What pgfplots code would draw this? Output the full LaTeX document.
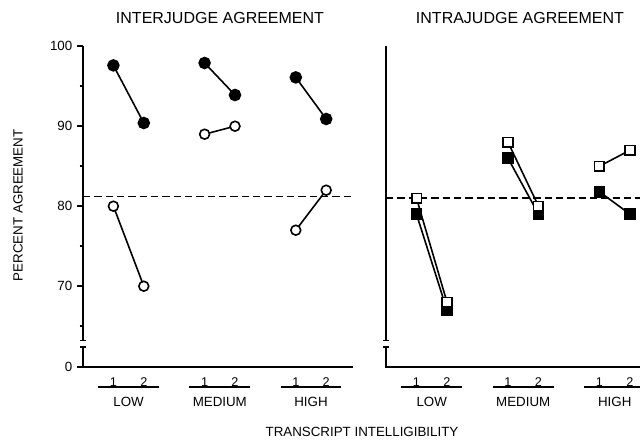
\documentclass[border=0pt]{standalone}
\usepackage{pgfplots}
\pgfplotsset{compat=1.18}
\usepackage{fontspec}
\setmainfont{Liberation Sans}
\tikzset{grp/.style={anchor=base, font=\fontsize{10}{11}\selectfont}}
\begin{document}
\begin{tikzpicture}
\useasboundingbox (0,0) rectangle (480pt,330pt);
\pgfplotsset{
  panel/.style={
    anchor=south west,
    y=6pt, xmin=0, ymin=59.9, ymax=100,
    axis line style={draw=none},
    clip=false,
    xtick={1,2,4,5,7,8}, xticklabels={1,2,1,2,1,2},
    major x tick style={draw=none},
    xticklabel style={font=\fontsize{9.5}{10}\selectfont, anchor=base, yshift=-9.8pt},
    tick align=outside,
    ytick pos=left,
    major tick length=4.5pt, minor tick length=2.5pt,
    every tick/.style={black, line width=1.1pt},
    yticklabel style={font=\fontsize{10}{11}\selectfont},
  },
  filled/.style={black, line width=1.2pt, mark=*, mark size=4.1pt, mark options={solid, fill=black}},
  open/.style={black, line width=1.2pt, mark=*, mark size=3.7pt, mark options={solid, fill=white}},
  sqfilled/.style={black, line width=1.2pt, mark=square*, mark size=3.8pt, mark options={solid, fill=black}},
  sqopen/.style={black, line width=1.2pt, mark=square*, mark size=3.6pt, mark options={solid, fill=white}},
  refline/.style={black, line width=1.3pt, dash pattern=on 5.5pt off 3pt},
}
% ---------- left panel ----------
\begin{axis}[panel, at={(62.25pt,54.75pt)}, x=22.8pt, xmax=8.88,
  ytick={59.9,70,80,90,100}, yticklabels={0,70,80,90,100},
  minor ytick={65,75,85,95}]
\draw[line width=1.4pt] (axis cs:0,100) -- (axis cs:0,63.25);
\draw[line width=1.4pt] (axis cs:0,62.4) -- (axis cs:0,59.9) -- (axis cs:8.88,59.9);
\draw[line width=0.9pt] ([xshift=-2pt]axis cs:0,63.25) -- ([xshift=2pt]axis cs:0,63.25);
\draw[line width=0.9pt] ([xshift=-2pt]axis cs:0,62.4) -- ([xshift=2pt]axis cs:0,62.4);
\addplot[refline] coordinates {(0,81.2) (8.88,81.2)};
\addplot[filled] coordinates {(1,97.6) (2,90.4)};
\addplot[filled] coordinates {(4,97.9) (5,93.9)};
\addplot[filled] coordinates {(7,96.1) (8,90.9)};
\addplot[open] coordinates {(1,80) (2,70)};
\addplot[open] coordinates {(4,89) (5,90)};
\addplot[open] coordinates {(7,77) (8,82)};
\draw[line width=1.1pt] (axis cs:0.5,57.4) -- (axis cs:2.5,57.4);
\draw[line width=1.1pt] (axis cs:3.5,57.4) -- (axis cs:5.5,57.4);
\draw[line width=1.1pt] (axis cs:6.5,57.4) -- (axis cs:8.5,57.4);
\node[grp] at (axis cs:1.5,55.0) {LOW};
\node[grp] at (axis cs:4.5,55.0) {MEDIUM};
\node[grp] at (axis cs:7.5,55.0) {HIGH};
\end{axis}
% ---------- right panel ----------
\begin{axis}[panel, at={(289.5pt,54.75pt)}, x=22.875pt, xmax=8.4,
  ytick=\empty]
\draw[line width=1.4pt] (axis cs:0,100) -- (axis cs:0,63.25);
\draw[line width=1.4pt] (axis cs:0,62.4) -- (axis cs:0,59.9) -- (axis cs:8.4,59.9);
\draw[line width=0.9pt] ([xshift=-2pt]axis cs:0,63.25) -- ([xshift=2pt]axis cs:0,63.25);
\draw[line width=0.9pt] ([xshift=-2pt]axis cs:0,62.4) -- ([xshift=2pt]axis cs:0,62.4);
\addplot[refline] coordinates {(0,81.0) (8.4,81.0)};
\addplot[sqfilled] coordinates {(1,79) (2,67)};
\addplot[sqfilled] coordinates {(4,86) (5,79)};
\addplot[sqfilled] coordinates {(7,81.8) (8,79)};
\addplot[sqopen] coordinates {(1,81) (2,68)};
\addplot[sqopen] coordinates {(4,88) (5,80)};
\addplot[sqopen] coordinates {(7,85) (8,87)};
\draw[line width=1.1pt] (axis cs:0.5,57.4) -- (axis cs:2.5,57.4);
\draw[line width=1.1pt] (axis cs:3.5,57.4) -- (axis cs:5.5,57.4);
\draw[line width=1.1pt] (axis cs:6.5,57.4) -- (axis cs:8.5,57.4);
\node[grp] at (axis cs:1.5,55.0) {LOW};
\node[grp] at (axis cs:4.5,55.0) {MEDIUM};
\node[grp] at (axis cs:7.5,55.0) {HIGH};
\end{axis}
% ---------- titles and labels ----------
\node[anchor=base, font=\fontsize{12}{14}\selectfont] at (165pt,312pt) {INTERJUDGE AGREEMENT};
\node[anchor=base, font=\fontsize{12}{14}\selectfont] at (390pt,312pt) {INTRAJUDGE AGREEMENT};
\node[anchor=base, font=\fontsize{10}{12}\selectfont] at (271.5pt,2.5pt) {TRANSCRIPT INTELLIGIBILITY};
\node[rotate=90, font=\fontsize{10}{12}\selectfont] at (13.5pt,176pt) {PERCENT AGREEMENT};
\end{tikzpicture}
\end{document}
